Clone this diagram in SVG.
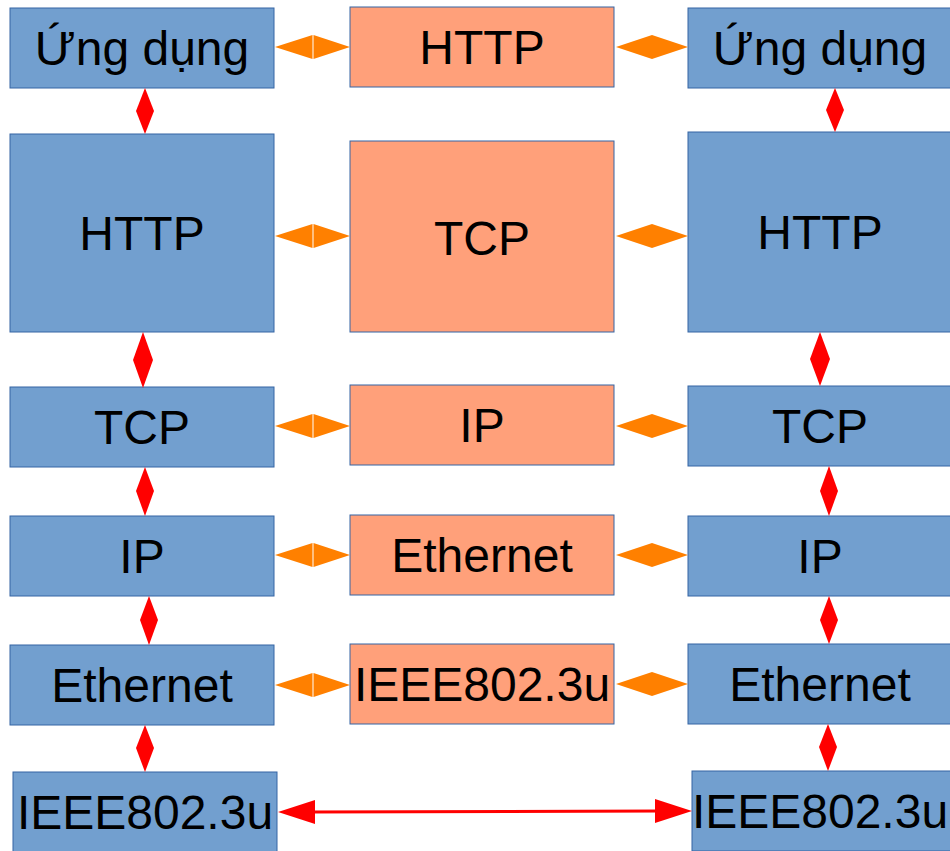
<svg xmlns="http://www.w3.org/2000/svg" width="950" height="851" viewBox="0 0 950 851">
<style>
.b{fill:#729fcf;stroke:#3465a4;stroke-width:1}
.s{fill:#ffa07a;stroke:#3465a4;stroke-width:1}
.t{font-family:"Liberation Sans",Arial,sans-serif;font-size:48px;fill:#000;text-anchor:middle;dominant-baseline:central}
.o{fill:#ff8000}
.r{fill:#ff0000}
</style>
<rect width="950" height="851" fill="#fff"/>
<g id="nodes">
<g id="l1"><rect class="b" x="10" y="8" width="264" height="80"/><text class="t" x="142" y="48">Ứng dụng</text></g>
<g id="l2"><rect class="b" x="10" y="134" width="264" height="198"/><text class="t" x="142" y="233">HTTP</text></g>
<g id="l3"><rect class="b" x="10" y="387" width="264" height="80"/><text class="t" x="142" y="427">TCP</text></g>
<g id="l4"><rect class="b" x="10" y="516" width="264" height="80"/><text class="t" x="142" y="556">IP</text></g>
<g id="l5"><rect class="b" x="10" y="645" width="264" height="80"/><text class="t" x="142" y="685">Ethernet</text></g>
<g id="l6"><rect class="b" x="13" y="772" width="264" height="80"/><text class="t" x="145" y="812">IEEE802.3u</text></g>
<g id="m1"><rect class="s" x="350" y="7" width="264" height="80"/><text class="t" x="482" y="47">HTTP</text></g>
<g id="m2"><rect class="s" x="350" y="141" width="264" height="191"/><text class="t" x="482" y="238">TCP</text></g>
<g id="m3"><rect class="s" x="350" y="385" width="264" height="80"/><text class="t" x="482" y="425">IP</text></g>
<g id="m4"><rect class="s" x="350" y="515" width="264" height="80"/><text class="t" x="482" y="555">Ethernet</text></g>
<g id="m5"><rect class="s" x="350" y="644" width="264" height="80"/><text class="t" x="482" y="684">IEEE802.3u</text></g>
<g id="r1"><rect class="b" x="688" y="8" width="264" height="80"/><text class="t" x="820" y="48">Ứng dụng</text></g>
<g id="r2"><rect class="b" x="688" y="132" width="264" height="200"/><text class="t" x="820" y="232">HTTP</text></g>
<g id="r3"><rect class="b" x="688" y="386" width="264" height="80"/><text class="t" x="820" y="426">TCP</text></g>
<g id="r4"><rect class="b" x="688" y="516" width="264" height="80"/><text class="t" x="820" y="556">IP</text></g>
<g id="r5"><rect class="b" x="688" y="644" width="264" height="80"/><text class="t" x="820" y="684">Ethernet</text></g>
<g id="r6"><rect class="b" x="692" y="771" width="264" height="80"/><text class="t" x="820" y="811">IEEE802.3u</text></g>
</g>
<g id="connectors">
<g class="o">
<polygon points="275,47 312.5,35 312.5,59"/><polygon points="350,47 313.5,35 313.5,59"/>
<polygon points="275,236 312.5,224 312.5,248"/><polygon points="350,236 313.5,224 313.5,248"/>
<polygon points="275,426 312.5,414 312.5,438"/><polygon points="350,426 313.5,414 313.5,438"/>
<polygon points="275,555 312.5,543 312.5,567"/><polygon points="350,555 313.5,543 313.5,567"/>
<polygon points="275,685 312.5,673 312.5,697"/><polygon points="350,685 313.5,673 313.5,697"/>
<polygon points="616,47 652,35 688,47 652,59"/>
<polygon points="616,236 652,224 688,236 652,248"/>
<polygon points="616,426 652,414 688,426 652,438"/>
<polygon points="616,555 652,543 688,555 652,567"/>
<polygon points="616,684 652,672 688,684 652,696"/>
</g>
<g class="r">
<polygon points="145,88 154,111 145,134 136,111"/>
<polygon points="143,332 153,360 143,388 133,360"/>
<polygon points="145,467 154,491 145,516 136,491"/>
<polygon points="149,596 158,620 149,645 140,620"/>
<polygon points="145,725 154,748 145,772 136,748"/>
<polygon points="835,88 844,110 835,132 826,110"/>
<polygon points="820,332 830,359 820,386 810,359"/>
<polygon points="829,466 838,491 829,516 820,491"/>
<polygon points="829,596 838,620 829,644 820,620"/>
<polygon points="828,724 837,747 828,771 819,747"/>
<line x1="310" y1="812" x2="660" y2="811" stroke="#ff0000" stroke-width="3"/>
<polygon points="278,812 315,800 315,824"/>
<polygon points="692,811 655,799 655,823"/>
</g>
</g>
</svg>
